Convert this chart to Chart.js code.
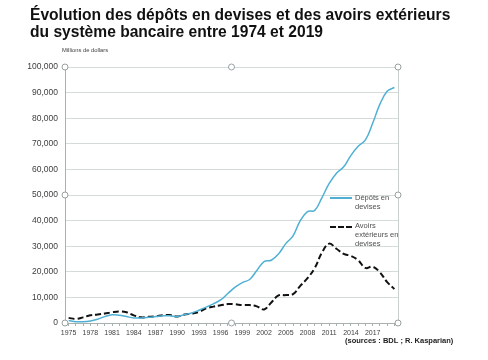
<!DOCTYPE html>
<html>
<head>
<meta charset="utf-8">
<script src="https://cdn.jsdelivr.net/npm/chart.js@4/dist/chart.umd.min.js"></script>
<style>
html,body{margin:0;padding:0;background:#fff;}
#wrap{position:relative;width:488px;height:360px;}
</style>
</head>
<body>
<div id="wrap"><canvas id="c" width="488" height="360"></canvas></div>
<script>
const years = [1975,1976,1977,1978,1979,1980,1981,1982,1983,1984,1985,1986,1987,1988,1989,1990,1991,1992,1993,1994,1995,1996,1997,1998,1999,2000,2001,2002,2003,2004,2005,2006,2007,2008,2009,2010,2011,2012,2013,2014,2015,2016,2017,2018,2019,2020];
const depots = [1000,500,500,800,1500,2500,3200,3000,2500,2000,2000,2200,2500,2800,2800,2500,3300,3900,5000,6200,7500,9000,11500,14000,15800,17000,20500,24000,24500,27000,31000,34000,40000,43500,44000,49000,54500,58500,61000,65500,69000,71500,78000,85500,90500,92000];
const avoirs = [2000,1600,2200,3000,3300,3700,4200,4500,4200,3000,2200,2400,2600,3000,3100,2500,3300,3700,4300,5700,6400,6900,7400,7300,7000,7000,6500,5300,8000,10800,10900,11300,14500,17500,21500,27500,31000,29000,27000,26200,24500,21500,22000,19800,16000,13300];
const yTicks = [0,10000,20000,30000,40000,50000,60000,70000,80000,90000,100000];
const titleLines = ["Évolution des dépôts en devises et des avoirs extérieurs","du système bancaire entre 1974 et 2019"];
const unitLabel = "Millions de dollars";
const legendDepots = ["Dépôts en","devises"];
const legendAvoirs = ["Avoirs","extérieurs en","devises"];
const sourceText = "(sources : BDL ; R. Kasparian)";

const FONT = "'Liberation Sans', Arial, sans-serif";
const extras = {
  id:'extras',
  afterDraw(chart){
    const ctx = chart.ctx, a = chart.chartArea;
    ctx.save();
    // right border
    ctx.strokeStyle = '#c8d0d0'; ctx.lineWidth = 1;
    ctx.beginPath(); ctx.moveTo(Math.round(a.right)+0.5, a.top); ctx.lineTo(Math.round(a.right)+0.5, a.bottom); ctx.stroke();
    // title
    ctx.fillStyle = '#111';
    ctx.font = "bold 15.6px " + FONT;
    ctx.textBaseline = 'middle'; ctx.textAlign = 'left';
    ctx.fillText(titleLines[0], 30, 16);
    ctx.fillText(titleLines[1], 30, 33);
    // unit
    ctx.fillStyle = '#404040';
    ctx.font = "5.8px " + FONT;
    ctx.fillText(unitLabel, 62, 50);
    // legend
    ctx.lineWidth = 2;
    ctx.strokeStyle = '#4fb0d4';
    ctx.beginPath(); ctx.moveTo(330,198); ctx.lineTo(352,198); ctx.stroke();
    ctx.strokeStyle = '#111'; ctx.setLineDash([6,2]);
    ctx.beginPath(); ctx.moveTo(330,227); ctx.lineTo(352,227); ctx.stroke();
    ctx.setLineDash([]);
    ctx.fillStyle = '#505050';
    ctx.font = "7.5px " + FONT;
    legendDepots.forEach((t,i)=>ctx.fillText(t, 355, 198 + i*9));
    legendAvoirs.forEach((t,i)=>ctx.fillText(t, 355, 226 + i*9));
    // source
    ctx.fillStyle = '#222';
    ctx.font = "bold 7.5px " + FONT;
    ctx.fillText(sourceText, 345, 341);
    // handles
    const mx = (a.left + a.right)/2, my = (a.top + a.bottom)/2;
    const pts = [[a.left,a.top],[mx,a.top],[a.right,a.top],[a.left,my],[a.right,my],[a.left,a.bottom],[mx,a.bottom],[a.right,a.bottom]];
    ctx.lineWidth = 1; ctx.strokeStyle = '#9aa0a0'; ctx.fillStyle = '#fff';
    pts.forEach(p=>{ctx.beginPath(); ctx.arc(p[0],p[1],3,0,Math.PI*2); ctx.fill(); ctx.stroke();});
    ctx.restore();
  }
};

new Chart(document.getElementById('c'), {
  type:'line',
  data:{
    labels: years.map(String),
    datasets:[
      {label:'Dépôts en devises', data:depots, borderColor:'#4fb0d4', borderWidth:1.5, pointRadius:0, tension:0.4, fill:false},
      {label:'Avoirs extérieurs en devises', data:avoirs, borderColor:'#111', borderWidth:2, borderDash:[6,3], pointRadius:0, tension:0.4, fill:false}
    ]
  },
  options:{
    responsive:false, animation:false,
    layout:{padding:{left:0,right:90,top:67,bottom:0}},
    plugins:{legend:{display:false}, title:{display:false}, tooltip:{enabled:false}},
    scales:{
      x:{
        offset:true,
        grid:{drawOnChartArea:false, drawTicks:true, tickLength:3, color:'#a8b0b0'},
        border:{color:'#a8b0b0'},
        ticks:{autoSkip:false, maxRotation:0, minRotation:0, padding:3, color:'#404040', font:{size:7, family:FONT},
          callback:function(v,i){ return (i%3===0 && i<45) ? this.getLabelForValue(v) : ''; }},
        afterFit(s){ s.height = 37; }
      },
      y:{
        min:0, max:100000,
        afterBuildTicks(s){ s.ticks = yTicks.map(v=>({value:v})); },
        grid:{color:'#d4dbdb', drawTicks:false},
        border:{color:'#a8b0b0'},
        ticks:{padding:7, color:'#404040', font:{size:8.5, family:FONT},
          callback:(v)=>v.toLocaleString('en-US')},
        afterFit(s){ s.width = 65; }
      }
    }
  },
  plugins:[extras]
});
</script>
</body>
</html>
